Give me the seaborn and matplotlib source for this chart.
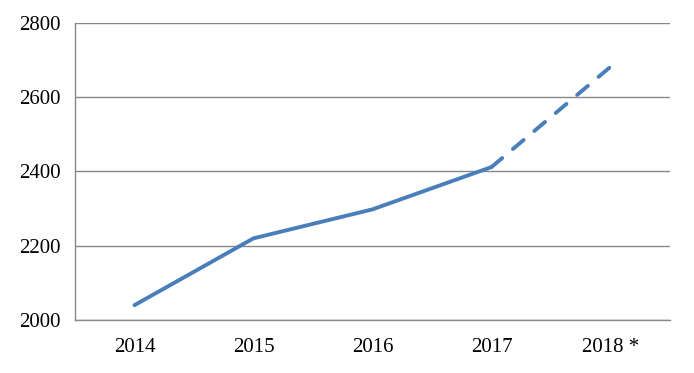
import matplotlib
matplotlib.use("Agg")
import matplotlib.pyplot as plt
import seaborn as sns
import pandas as pd
import numpy as np

categories = ["2014", "2015", "2016", "2017", "2018 *"]
values = [2040, 2220, 2298, 2412, 2682]
y_ticks = [2000, 2200, 2400, 2600, 2800]

sns.set_theme(style="white")
plt.rcParams['font.family'] = ['Liberation Serif', 'DejaVu Serif']

df = pd.DataFrame({"pos": np.arange(len(categories)), "value": values, "cat": categories})
solid = df.iloc[:4]
dashed = df.iloc[3:]

fig = plt.figure(figsize=(6.94, 3.73), dpi=100)
ax = fig.add_axes([75/694, 53/373, 595/694, 297/373])

color = "#4a7ebb"
gray = "#888888"
lw = 2.8
sns.lineplot(data=solid, x="pos", y="value", ax=ax, color=color, linewidth=lw,
             solid_capstyle="round", solid_joinstyle="round")
sns.lineplot(data=dashed, x="pos", y="value", ax=ax, color=color, linewidth=lw)
ax.lines[-1].set_dashes((3.6, 3.6))
ax.lines[-1].set_dash_capstyle("round")

ax.set_xlim(-0.5, len(categories) - 0.5)
ax.set_ylim(2000, 2800)
ax.set_yticks(y_ticks)
ax.set_yticklabels([str(v) for v in y_ticks], fontsize=15)
ax.set_xticks(np.arange(len(categories)))
ax.set_xticklabels(categories, fontsize=15)
ax.set_xticks(np.arange(len(categories) + 1) - 0.5, minor=True)
ax.tick_params(axis="x", which="major", length=0, pad=13, colors="black")
ax.tick_params(axis="x", which="minor", length=6, width=1, color=gray, direction="out")
ax.tick_params(axis="y", length=7, width=1, pad=3, colors="black")
ax.tick_params(axis="y", color=gray)
ax.yaxis.grid(True, color=gray, linewidth=1)
ax.xaxis.grid(False)
for s in ["top", "right"]:
    ax.spines[s].set_visible(False)
for s in ["left", "bottom"]:
    ax.spines[s].set_color(gray)
    ax.spines[s].set_linewidth(1)
ax.set_xlabel("")
ax.set_ylabel("")
ax.set_axisbelow(True)

fig.savefig("out.png", dpi=100)
